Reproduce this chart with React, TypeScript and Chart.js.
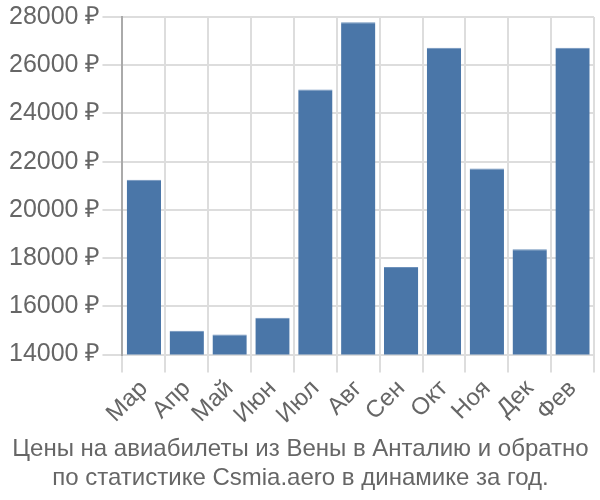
import React, { useEffect, useRef } from "react";
import { Chart, registerables } from "chart.js";

Chart.register(...registerables);

const months = ["Мар", "Апр", "Май", "Июн", "Июл", "Авг", "Сен", "Окт", "Ноя", "Дек", "Фев"];
const prices = [21250, 14990, 14830, 15530, 24990, 27780, 17630, 26720, 21720, 18370, 26720];
const titleLines = [
  "Цены на авиабилеты из Вены в Анталию и обратно",
  "по статистике Csmia.aero в динамике за год.",
];

const FONT = "'Liberation Sans', Arial, sans-serif";

export default function App() {
  const ref = useRef<HTMLCanvasElement | null>(null);
  useEffect(() => {
    document.body.style.margin = "0";
    const ctx = ref.current!;
    const chart = new Chart(ctx, {
      type: "bar",
      data: {
        labels: months,
        datasets: [
          {
            data: prices,
            backgroundColor: "#4a76a8",
            borderColor: "#6d91bb",
            borderWidth: { top: 1, left: 0, right: 0, bottom: 0 },
            barPercentage: 0.8,
            categoryPercentage: 1,
          },
        ],
      },
      options: {
        animation: false,
        responsive: false,
        maintainAspectRatio: false,
        layout: { padding: { top: -5, right: 6, left: 7, bottom: 7 } },
        plugins: {
          legend: { display: false },
          tooltip: { enabled: false },
          title: {
            display: true,
            position: "bottom",
            text: titleLines,
            color: "#666",
            font: { family: FONT, size: 24, weight: "normal" },
            padding: { top: 4, bottom: 0 },
            lineHeight: 1.12,
          },
        },
        scales: {
          x: {
            offset: true,
            grid: {
              offset: true,
              color: "#dddddd",
              lineWidth: 2,
              tickLength: 18,
            },
            border: { color: "#dddddd", width: 2 },
            ticks: {
              autoSkip: false,
              color: "#666",
              font: { family: FONT, size: 24 },
              maxRotation: 45,
              minRotation: 45,
              padding: 2,
            },
          },
          y: {
            min: 14000,
            max: 28000,
            grid: { color: "#dddddd", lineWidth: 2, tickLength: 20 },
            border: { color: "#aaaaaa", width: 2 },
            ticks: {
              stepSize: 2000,
              color: "#666",
              font: { family: FONT, size: 25 },
              padding: 2,
              callback: (v: any) => v + " ₽",
            },
          },
        },
      },
    });
    return () => chart.destroy();
  }, []);
  return (
    <div style={{ position: "fixed", left: 0, top: 0, width: 600, height: 500 }}>
      <canvas ref={ref} width={600} height={500} />
    </div>
  );
}
